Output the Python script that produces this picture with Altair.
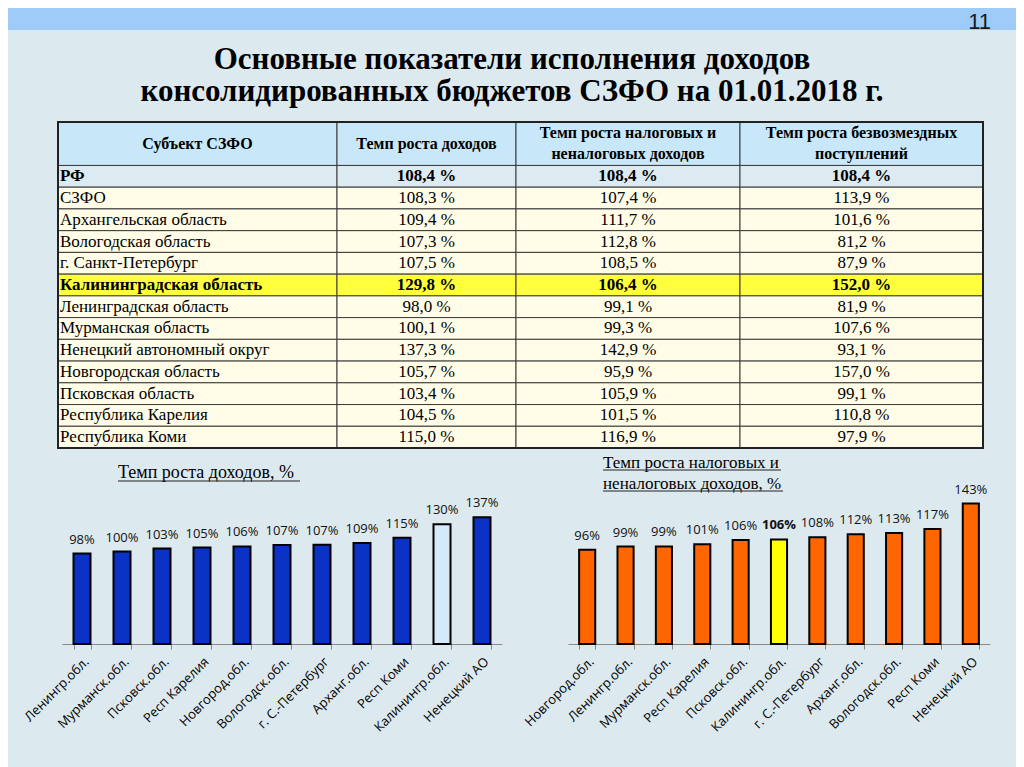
import altair as alt
import pandas as pd

# ---------------- data ----------------
page_number = "11"
title_lines = [
    "Основные показатели исполнения доходов",
    "консолидированных бюджетов СЗФО на 01.01.2018 г.",
]

header = [
    "Субъект СЗФО",
    "Темп роста доходов",
    "Темп роста налоговых и\nненалоговых доходов",
    "Темп роста безвозмездных\nпоступлений",
]
subjects = [
    "РФ", "СЗФО", "Архангельская область", "Вологодская область", "г. Санкт-Петербург",
    "Калининградская область", "Ленинградская область", "Мурманская область",
    "Ненецкий автономный округ", "Новгородская область", "Псковская область",
    "Республика Карелия", "Республика Коми",
]
income_growth = [108.4, 108.3, 109.4, 107.3, 107.5, 129.8, 98.0, 100.1, 137.3, 105.7, 103.4, 104.5, 115.0]
tax_growth = [108.4, 107.4, 111.7, 112.8, 108.5, 106.4, 99.1, 99.3, 142.9, 95.9, 105.9, 101.5, 116.9]
grant_growth = [108.4, 113.9, 101.6, 81.2, 87.9, 152.0, 81.9, 107.6, 93.1, 157.0, 99.1, 110.8, 97.9]
highlight_subject = "Калининградская область"

chart1_title = ["Темп роста доходов, %"]
chart1_regions = ["Ленингр.обл.", "Мурманск.обл.", "Псковск.обл.", "Респ Карелия", "Новгород.обл.",
                  "Вологодск.обл.", "г. С.-Петербург", "Арханг.обл.", "Респ Коми", "Калинингр.обл.",
                  "Ненецкий АО"]
chart1_values = [98.0, 100.1, 103.4, 104.5, 105.7, 107.3, 107.5, 109.4, 115.0, 129.8, 137.3]
chart1_labels = ["98%", "100%", "103%", "105%", "106%", "107%", "107%", "109%", "115%", "130%", "137%"]

chart2_title = ["Темп роста налоговых и", "неналоговых доходов, %"]
chart2_regions = ["Новгород.обл.", "Ленингр.обл.", "Мурманск.обл.", "Респ Карелия", "Псковск.обл.",
                  "Калинингр.обл.", "г. С.-Петербург", "Арханг.обл.", "Вологодск.обл.", "Респ Коми",
                  "Ненецкий АО"]
chart2_values = [95.9, 99.1, 99.3, 101.5, 105.9, 106.4, 108.5, 111.7, 112.8, 116.9, 142.9]
chart2_labels = ["96%", "99%", "99%", "101%", "106%", "106%", "108%", "112%", "113%", "117%", "143%"]
highlight_region = "Калинингр.обл."

# ---------------- layout / style ----------------
W = 1008
BAND_H = 22
TITLE_H = 92
TABLE_LEFT = 50
TABLE_H = 326
GAP_H = 46
BAR_H = 150
BOTTOM_H = 280
COL_EDGES = [0, 279, 458, 682, 925]
ROW_UNITS = 15  # header = 2 units, each data row = 1 unit

BG = "#dce9ef"
BAND = "#9ecbf8"
FILLS = {"header": "#c8e8fa", "rf": "#dcebf1", "normal": "#fffde8", "hi": "#ffff3c"}
SERIF = "Liberation Serif"
SANS = "Open Sans"
HEAD_FS = 16
ROW_FS = 17
HEAD_LH = 21


def fmt(v):
    return f"{v:.1f}".replace(".", ",") + " %"


# ---------------- band with page number ----------------
band = alt.Chart(pd.DataFrame({"t": [page_number]})).mark_text(
    font="Liberation Sans", fontSize=22, align="right", baseline="middle", color="#1a1a1a"
).encode(
    x=alt.value(983), y=alt.value(14), text="t:N"
).properties(width=W, height=BAND_H, view=alt.ViewBackground(fill=BAND, stroke=None))

# ---------------- title ----------------
title_panel = alt.Chart(pd.DataFrame({"line": title_lines, "i": list(range(len(title_lines)))})).mark_text(
    font=SERIF, fontSize=31, fontWeight="bold", baseline="middle", color="black"
).encode(
    y=alt.Y("i:O", axis=None, scale=alt.Scale(type="point", padding=0.894)),
    text="line:N",
).properties(width=W, height=TITLE_H)

# ---------------- table ----------------
cells = []
for c in range(4):
    cells.append(dict(col=c, x0=COL_EDGES[c], x1=COL_EDGES[c + 1], y0=0, y1=2, text=header[c], kind="header"))
for i, s in enumerate(subjects):
    if s == "РФ":
        kind = "rf"
    elif s == highlight_subject:
        kind = "hi"
    else:
        kind = "normal"
    vals = [s, fmt(income_growth[i]), fmt(tax_growth[i]), fmt(grant_growth[i])]
    for c in range(4):
        cells.append(dict(col=c, x0=COL_EDGES[c], x1=COL_EDGES[c + 1], y0=2 + i, y1=3 + i,
                          text=vals[c], kind=kind))
tdf = pd.DataFrame(cells)
tdf["xc"] = (tdf["x0"] + tdf["x1"]) / 2
tdf["yc"] = (tdf["y0"] + tdf["y1"]) / 2
tdf["fill"] = tdf["kind"].map(FILLS)
tdf["bold"] = tdf["kind"].isin(["rf", "hi"])
tdf["multi"] = tdf["text"].str.contains("\n")

# table occupies COL_EDGES within a full-width panel, offset by TABLE_LEFT
xs = alt.Scale(domain=[-TABLE_LEFT, W - TABLE_LEFT], nice=False, zero=False)
ys = alt.Scale(domain=[0, ROW_UNITS], nice=False, reverse=True)
tx0 = alt.X("x0:Q", scale=xs, axis=None)
txc = alt.X("xc:Q", scale=xs, axis=None)
tyc = alt.Y("yc:Q", scale=ys, axis=None)

tbase = alt.Chart(tdf)
cell_rects = tbase.mark_rect(stroke="#3a3a3a", strokeWidth=1).encode(
    x=tx0, x2="x1:Q",
    y=alt.Y("y0:Q", scale=ys, axis=None), y2="y1:Q",
    fill=alt.Fill("fill:N", scale=None),
)
head_single = tbase.transform_filter("datum.kind == 'header' && !datum.multi").mark_text(
    font=SERIF, fontSize=HEAD_FS, fontWeight="bold", align="center", baseline="middle", color="black"
).encode(x=txc, y=tyc, text="text:N")
head_multi = tbase.transform_filter("datum.kind == 'header' && datum.multi").mark_text(
    font=SERIF, fontSize=HEAD_FS, fontWeight="bold", lineBreak="\n", lineHeight=HEAD_LH,
    align="center", baseline="middle", dy=-HEAD_LH / 2, color="black"
).encode(x=txc, y=tyc, text="text:N")
name_text = tbase.transform_filter("datum.kind != 'header' && datum.col == 0 && !datum.bold").mark_text(
    font=SERIF, fontSize=ROW_FS, align="left", baseline="middle", dx=2, color="black"
).encode(x=tx0, y=tyc, text="text:N")
name_bold = tbase.transform_filter("datum.kind != 'header' && datum.col == 0 && datum.bold").mark_text(
    font=SERIF, fontSize=ROW_FS, fontWeight="bold", align="left", baseline="middle", dx=2, color="black"
).encode(x=tx0, y=tyc, text="text:N")
val_text = tbase.transform_filter("datum.kind != 'header' && datum.col > 0 && !datum.bold").mark_text(
    font=SERIF, fontSize=ROW_FS, align="center", baseline="middle", color="black"
).encode(x=txc, y=tyc, text="text:N")
val_bold = tbase.transform_filter("datum.kind != 'header' && datum.col > 0 && datum.bold").mark_text(
    font=SERIF, fontSize=ROW_FS, fontWeight="bold", align="center", baseline="middle", color="black"
).encode(x=txc, y=tyc, text="text:N")
outer = alt.Chart(pd.DataFrame({"x0": [COL_EDGES[0]], "x1": [COL_EDGES[-1]], "y0": [0], "y1": [ROW_UNITS]})).mark_rect(
    fill=None, stroke="#222222", strokeWidth=2
).encode(
    x=tx0, x2="x1:Q",
    y=alt.Y("y0:Q", scale=ys, axis=None), y2="y1:Q",
)
table = alt.layer(cell_rects, head_single, head_multi, name_text, name_bold, val_text, val_bold, outer).properties(
    width=W, height=TABLE_H
)


# ---------------- bar charts ----------------
def bar_panel(regions, values, labels, title, title_fs, base, hi, ymax, width, pad_inner,
              title_x, title_y, underlines, bold_hi):
    df = pd.DataFrame({"region": regions, "value": values, "label": labels})
    df["fill"] = [hi if r == highlight_region else base for r in regions]
    df["hl"] = [bool(bold_hi and r == highlight_region) for r in regions]
    x = alt.X(
        "region:N", sort=regions, title=None,
        scale=alt.Scale(paddingInner=pad_inner, paddingOuter=pad_inner / 2),
        axis=alt.Axis(labelAngle=-45, labelFont=SANS, labelFontSize=13, labelColor="black",
                      ticks=True, tickBand="extent", tickSize=5, tickColor="#8a8a8a",
                      domainColor="#8a8a8a", domainWidth=1, labelPadding=6,
                      labelLimit=0, labelOverlap=False),
    )
    y = alt.Y("value:Q", scale=alt.Scale(domain=[0, ymax], nice=False), axis=None)
    b = alt.Chart(df)
    bars = b.mark_bar(stroke="black", strokeWidth=2).encode(x=x, y=y, fill=alt.Fill("fill:N", scale=None))
    lab = b.transform_filter("!datum.hl").mark_text(
        font=SANS, fontSize=13, dy=-14, baseline="middle", color="#111111"
    ).encode(x=x, y=y, text="label:N")
    lab_b = b.transform_filter("datum.hl").mark_text(
        font=SANS, fontSize=13, fontWeight="bold", dy=-14, baseline="middle", color="#111111"
    ).encode(x=x, y=y, text="label:N")
    # underlined chart title, written above the plot area
    ttl = alt.Chart(pd.DataFrame({"t": ["\n".join(title)]})).mark_text(
        font=SERIF, fontSize=title_fs, color="black", align="left", baseline="middle",
        lineBreak="\n", lineHeight=21
    ).encode(x=alt.value(title_x), y=alt.value(title_y), text="t:N")
    layers = [bars, lab, lab_b, ttl]
    for (u0, u1, uy) in underlines:
        layers.append(
            alt.Chart(pd.DataFrame({"u": [0]})).mark_rule(color="#222222", strokeWidth=1).encode(
                x=alt.value(u0), x2=alt.value(u1), y=alt.value(uy)
            )
        )
    return alt.layer(*layers).properties(width=width, height=BAR_H)


left = bar_panel(chart1_regions, chart1_values, chart1_labels, chart1_title, 18,
                 "#0a32c4", "#d2eafa", 162.5, 440, 0.575, 56, -21,
                 [(56, 238, -13)], False)
right = bar_panel(chart2_regions, chart2_values, chart2_labels, chart2_title, 17,
                  "#ff6600", "#ffff00", 152.6, 422, 0.58, 35, -31,
                  [(35, 213, -24), (35, 215, -3)], True)


def spacer(w, h):
    return alt.Chart(pd.DataFrame({"s": [0]})).mark_point(opacity=0).properties(width=w, height=h)


row_bars = alt.hconcat(spacer(54, BAR_H), left, spacer(66, BAR_H), right, spacing=0, bounds="flush")

chart = alt.vconcat(
    band, title_panel, table, spacer(W, GAP_H), row_bars, spacer(W, BOTTOM_H), spacing=0, bounds="flush"
).properties(padding=0, background=BG).configure_view(stroke=None).configure_concat(spacing=0)

chart.save("out.html", embed_options={"renderer": "svg", "actions": False})
